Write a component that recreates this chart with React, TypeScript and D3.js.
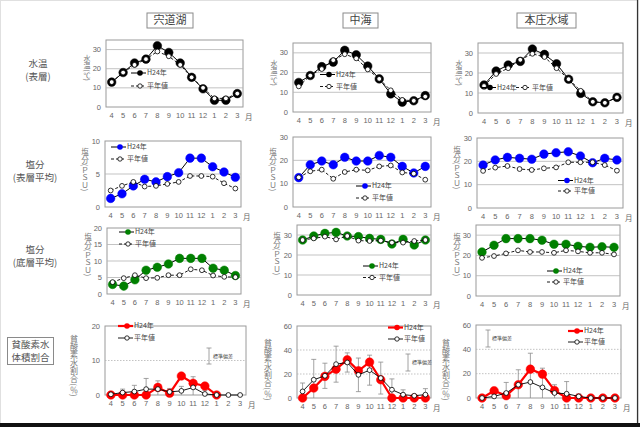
import React from "react";
import * as d3 from "d3";

const months = ["4", "5", "6", "7", "8", "9", "10", "11", "12", "1", "2", "3"];
const areaNames = ["宍道湖", "中海", "本庄水域"];
const legendH24 = "H24年";
const legendAvg = "平年値";
const legendSd = "標準偏差";

// 水温（表層）
const shinjiTempH24 = [13, 18, 23, 25, 32, 28.5, 23, 15.5, 9.5, 3.5, 3.5, 7];
const shinjiTempAvg = [13, 18, 22, 25, 29, 26.5, 22, 15.5, 10, 4.5, 4.5, 7];
const nakaumiTempH24 = [15, 18.5, 23, 25.3, 31.3, 29, 23.3, 16.8, 9.2, 5, 5.7, 8.3];
const nakaumiTempAvg = [13, 18.5, 21.8, 26.3, 29.3, 27.2, 21.6, 16.8, 11, 6.1, 5.7, 7.8];
const honjoTempH24 = [14, 21, 24, 25.8, 32, 29.3, 24.6, 16.9, 9.8, 5.6, 5.1, 7.8];
const honjoTempAvg = [13.5, 19.5, 22.4, 26.6, 29.6, 28, 22.4, 16.9, 11.1, 5.6, 5.1, 7.8];

// 塩分（表層平均）
const shinjiSurfH24 = [1.3, 2.0, 3.2, 4.2, 3.8, 4.6, 5.2, 7.4, 7.4, 6.1, 5.3, 4.5];
const shinjiSurfAvg = [2.5, 3.2, 3.8, 3.1, 3.2, 3.5, 3.8, 4.7, 4.7, 4.6, 3.6, 2.8];
const nakaumiSurfH24 = [12.6, 18.1, 19.7, 18.1, 21.3, 19.7, 19.7, 22.1, 21.3, 17.4, 14.6, 17.4];
const nakaumiSurfAvg = [12.7, 15.3, 16, 12.1, 15, 16, 15.7, 17.4, 17.8, 14.8, 14.3, 11.7];
const honjoSurfH24 = [18.4, 20.6, 21.7, 21.3, 20.9, 23.1, 23.7, 24.1, 22.3, 19.4, 21.3, 20.6];
const honjoSurfAvg = [15.9, 17.3, 18, 16.7, 16.3, 17, 17.4, 19.6, 19.6, 19.6, 18.4, 16];

// 塩分（底層平均）
const shinjiBotH24 = [2.9, 2.4, 4.3, 7.2, 8.1, 9.1, 10.8, 10.8, 10.8, 7.8, 7.2, 5.6];
const shinjiBotAvg = [3.6, 4.8, 5.7, 4.8, 4.9, 5.7, 5.7, 7.5, 7.2, 5.6, 5.2, 5.1];
const nakaumiBotH24 = [27.5, 29.5, 30.8, 31.3, 29.5, 29.2, 28.3, 27.8, 25.5, 27.8, 25, 27.5];
const nakaumiBotAvg = [27.5, 28.3, 29.2, 27.8, 29.5, 27.2, 27, 27.2, 26.2, 26.2, 27, 27.5];
const honjoBotH24 = [21.7, 25, 28.3, 28.3, 28.3, 27.5, 25.5, 25.5, 24.5, 24, 24.3, 24];
const honjoBotAvg = [18.8, 19.7, 21, 22.5, 21.7, 21.7, 21.3, 22.5, 22, 21.3, 21.3, 20.5];

// 貧酸素水体積割合
const shinjiOxyH24 = [0, 0, 0, 0, 2.2, 0.5, 5.5, 3.4, 2.6, 0, null, null];
const shinjiOxyAvg = [0.2, 0.7, 1.0, 1.7, 1.7, 0.9, 1.2, 2.2, 0.3, 0, 0, 0];
const shinjiOxySd = [0, 1, 1.8, 3.1, 2.4, 1, 1.3, 3.1, 1, 0, 0, 0];
const nakaumiOxyH24 = [0, 8.3, 18, 24, 31.8, 22.7, 29.9, 15.2, 0, 0, 0, 0];
const nakaumiOxyAvg = [5.5, 15.2, 18.5, 28.2, 29.6, 19.3, 23.2, 16.6, 6.9, 2.8, 1.9, 2.8];
const nakaumiOxySd = [7, 17, 10.5, 15, 8, 14, 12.5, 13.3, 9, 4, 1, 5];
const honjoOxyH24 = [0, 6, 1.9, 10.9, 23.7, 19.6, 6.2, 0, 0, 0, 0, 0];
const honjoOxyAvg = [0, 1.3, 4.1, 10.9, 13.1, 8.7, 4.1, 3.5, 1.3, 0, 0, 0];
const honjoOxySd = [0, 1.5, 8.7, 12.3, 23.7, 15.8, 6.8, 10, 2, 0, 0, 0];

const tempTicks = [0, 10, 20, 30];
const shinjiSurfTicks = [0, 5, 10];
const shinjiBotTicks = [0, 5, 10, 15, 20];
const salTicks = [0, 10, 20, 30];
const shinjiOxyTicks = [0, 10, 20];
const oxyTicks = [0, 20, 40, 60];

const ylabTemp = "水温(℃)";
const ylabSal = "塩分(ＰＳＵ)";
const ylabOxy = "貧酸素水割合(％)";

const FONT = "'Noto Sans CJK JP', 'Liberation Sans', sans-serif";
const NUMFONT = "'Liberation Sans', 'Noto Sans CJK JP', sans-serif";

type Kind = "temp" | "surf" | "bot" | "oxy";
interface Leg { x: number; y1: number; y2: number; horiz?: boolean; x2?: number }
interface Cfg {
  x0: number; x1: number; y0: number; y1: number; max: number; ticks: number[];
  kind: Kind; h24: (number | null)[]; avg: number[]; sd?: number[];
  ylabel: string; yl: [number, number]; ylSize: number; leg: Leg;
  sdLeg?: { x: number; ya: number; yb: number };
}

const panels: Cfg[] = [
  { x0: 106, x1: 243, y0: 40, y1: 107, max: 35, ticks: tempTicks, kind: "temp", h24: shinjiTempH24, avg: shinjiTempAvg, ylabel: ylabTemp, yl: [87, 68], ylSize: 7, leg: { x: 131, y1: 73, y2: 86 } },
  { x0: 105, x1: 241, y0: 141, y1: 207, max: 10, ticks: shinjiSurfTicks, kind: "surf", h24: shinjiSurfH24, avg: shinjiSurfAvg, ylabel: ylabSal, yl: [85, 170], ylSize: 7.5, leg: { x: 111, y1: 147, y2: 159 } },
  { x0: 107, x1: 241, y0: 228, y1: 294, max: 20, ticks: shinjiBotTicks, kind: "bot", h24: shinjiBotH24, avg: shinjiBotAvg, ylabel: ylabSal, yl: [88, 255], ylSize: 7.5, leg: { x: 119, y1: 232, y2: 244 } },
  { x0: 105, x1: 246, y0: 326, y1: 395, max: 20, ticks: shinjiOxyTicks, kind: "oxy", h24: shinjiOxyH24, avg: shinjiOxyAvg, sd: shinjiOxySd, ylabel: ylabOxy, yl: [74, 366], ylSize: 8, leg: { x: 118, y1: 326, y2: 338 }, sdLeg: { x: 209, ya: 348, yb: 364 } },

  { x0: 293, x1: 431, y0: 43, y1: 112, max: 35, ticks: tempTicks, kind: "temp", h24: nakaumiTempH24, avg: nakaumiTempAvg, ylabel: ylabTemp, yl: [274, 73], ylSize: 7, leg: { x: 320, y1: 74.5, y2: 86.5 } },
  { x0: 293, x1: 431, y0: 137, y1: 207, max: 30, ticks: salTicks, kind: "surf", h24: nakaumiSurfH24, avg: nakaumiSurfAvg, ylabel: ylabSal, yl: [273, 170], ylSize: 7.5, leg: { x: 356, y1: 186, y2: 198 } },
  { x0: 297, x1: 431, y0: 225, y1: 295, max: 35, ticks: salTicks, kind: "bot", h24: nakaumiBotH24, avg: nakaumiBotAvg, ylabel: ylabSal, yl: [277, 254], ylSize: 7.5, leg: { x: 363, y1: 266, y2: 277.5 } },
  { x0: 297, x1: 431, y0: 326, y1: 398, max: 60, ticks: oxyTicks, kind: "oxy", h24: nakaumiOxyH24, avg: nakaumiOxyAvg, sd: nakaumiOxySd, ylabel: ylabOxy, yl: [268, 370], ylSize: 8, leg: { x: 388, y1: 327.5, y2: 339 }, sdLeg: { x: 408, ya: 354, yb: 371 } },

  { x0: 478, x1: 623, y0: 43, y1: 113, max: 35, ticks: tempTicks, kind: "temp", h24: honjoTempH24, avg: honjoTempAvg, ylabel: ylabTemp, yl: [459, 73], ylSize: 7, leg: { x: 481, x2: 516, y1: 87.5, y2: 87.5, horiz: true } },
  { x0: 477, x1: 623, y0: 138, y1: 208, max: 30, ticks: salTicks, kind: "surf", h24: honjoSurfH24, avg: honjoSurfAvg, ylabel: ylabSal, yl: [457, 168], ylSize: 7.5, leg: { x: 558, y1: 180.5, y2: 191 } },
  { x0: 476, x1: 620, y0: 225, y1: 296, max: 35, ticks: salTicks, kind: "bot", h24: honjoBotH24, avg: honjoBotAvg, ylabel: ylabSal, yl: [457, 255], ylSize: 7.5, leg: { x: 547, y1: 271, y2: 282 } },
  { x0: 476, x1: 621, y0: 325, y1: 398, max: 60, ticks: oxyTicks, kind: "oxy", h24: honjoOxyH24, avg: honjoOxyAvg, sd: honjoOxySd, ylabel: ylabOxy, yl: [446, 370], ylSize: 8, leg: { x: 568, y1: 331, y2: 342 }, sdLeg: { x: 488, ya: 330, yb: 347 } },
];

const colors: Record<Kind, string> = { temp: "#000000", surf: "#0000ff", bot: "#008000", oxy: "#ff0000" };

function Panel({ c }: { c: Cfg }) {
  const x = d3.scaleBand<string>().domain(months).range([c.x0, c.x1]);
  const cx = (i: number) => (x(months[i]) as number) + x.bandwidth() / 2;
  const y = d3.scaleLinear().domain([0, c.max]).range([c.y1, c.y0]);
  const col = colors[c.kind];
  const isOxy = c.kind === "oxy";
  const lineGen = d3
    .line<number | null>()
    .defined((d) => d != null)
    .x((_, i) => cx(i))
    .y((d) => y(d as number));
  const rBig = 4.3;
  const rSmall = 2.4;
  const avgDash = isOxy ? undefined : "3,2";
  const h24Width = isOxy ? 2.2 : 1;
  const L = c.leg;
  const legItems = L.horiz
    ? [
        { lx: L.x, ly: L.y1, t: legendH24, h: true },
        { lx: L.x2 as number, ly: L.y2, t: legendAvg, h: false },
      ]
    : [
        { lx: L.x, ly: L.y1, t: legendH24, h: true },
        { lx: L.x, ly: L.y2, t: legendAvg, h: false },
      ];
  return (
    <g>
      <rect x={c.x0} y={c.y0} width={c.x1 - c.x0} height={c.y1 - c.y0} fill="#fff" stroke="#9a9a9a" strokeWidth={1} />
      {c.ticks.filter((t) => t > 0 && t < c.max).map((t) => (
        <line key={"g" + t} x1={c.x0} x2={c.x1} y1={y(t)} y2={y(t)} stroke="#b4b4b4" strokeWidth={0.8} strokeDasharray={isOxy ? "1.5,1.5" : undefined} />
      ))}
      {c.ticks.map((t) => (
        <text key={"t" + t} x={c.x0 - 5} y={y(t)} dy="0.35em" textAnchor="end" fontSize={7.5} fill="#666" fontFamily={NUMFONT}>{t}</text>
      ))}
      {months.map((m, i) => (
        <text key={"m" + m} x={cx(i)} y={c.y1 + 11} textAnchor="middle" fontSize={7.5} fill="#666" fontFamily={NUMFONT}>{m}</text>
      ))}
      <text x={c.x1 + 2} y={c.y1 + 13} fontSize={7.5} fill="#666" fontFamily={FONT}>月</text>
      <text x={c.yl[0]} y={c.yl[1]} textAnchor="middle" fontSize={c.ylSize} fill="#777" fontFamily={FONT} style={{ writingMode: "vertical-rl" } as any}>{c.ylabel}</text>
      {c.sd &&
        c.avg.map((v, i) => {
          const s = (c.sd as number[])[i];
          if (!s) return null;
          const top = Math.min(v + s, c.max);
          const bot = Math.max(v - s, 0);
          return (
            <g key={"e" + i} stroke="#8c8c8c" strokeWidth={0.8}>
              <line x1={cx(i)} x2={cx(i)} y1={y(bot)} y2={y(top)} />
              {v + s <= c.max && <line x1={cx(i) - 2.5} x2={cx(i) + 2.5} y1={y(top)} y2={y(top)} />}
              {v - s >= 0 && <line x1={cx(i) - 2.5} x2={cx(i) + 2.5} y1={y(bot)} y2={y(bot)} />}
            </g>
          );
        })}
      <path d={lineGen(c.h24) || ""} fill="none" stroke={isOxy ? col : "#000"} strokeWidth={h24Width} />
      {c.h24.map((v, i) => (v == null ? null : <circle key={"h" + i} cx={cx(i)} cy={y(v)} r={rBig} fill={col} stroke={col} strokeWidth={0.5} />))}
      <path d={lineGen(c.avg) || ""} fill="none" stroke="#000" strokeWidth={0.9} strokeDasharray={avgDash} />
      {c.avg.map((v, i) => (
        <circle key={"a" + i} cx={cx(i)} cy={y(v)} r={rSmall} fill="#fff" stroke="#000" strokeWidth={0.8} />
      ))}
      {legItems.map((it, k) => (
        <g key={"l" + k}>
          <line x1={it.lx} x2={it.lx + 15} y1={it.ly} y2={it.ly} stroke={it.h ? (isOxy ? col : "#000") : "#000"} strokeWidth={it.h ? h24Width : 0.9} strokeDasharray={it.h ? undefined : avgDash} />
          {it.h ? (
            <circle cx={it.lx + 9} cy={it.ly} r={2.8} fill={col} />
          ) : (
            <circle cx={it.lx + 9} cy={it.ly} r={2.2} fill="#fff" stroke="#000" strokeWidth={0.8} />
          )}
          <text x={it.lx + 16} y={it.ly} dy="0.35em" fontSize={7} fill="#444" fontFamily={FONT}>{it.t}</text>
        </g>
      ))}
      {c.sdLeg && (
        <g>
          <g stroke="#8c8c8c" strokeWidth={0.8}>
            <line x1={c.sdLeg.x} x2={c.sdLeg.x} y1={c.sdLeg.ya} y2={c.sdLeg.yb} />
            <line x1={c.sdLeg.x - 2.5} x2={c.sdLeg.x + 2.5} y1={c.sdLeg.ya} y2={c.sdLeg.ya} />
            <line x1={c.sdLeg.x - 2.5} x2={c.sdLeg.x + 2.5} y1={c.sdLeg.yb} y2={c.sdLeg.yb} />
          </g>
          <text x={c.sdLeg.x + 4} y={(c.sdLeg.ya + c.sdLeg.yb) / 2} dy="0.35em" fontSize={5} fill="#444" fontFamily={FONT}>{legendSd}</text>
        </g>
      )}
    </g>
  );
}

const titleBoxes = [
  { x: 147, y: 13, w: 46, h: 15 },
  { x: 343, y: 13, w: 35, h: 15 },
  { x: 517, y: 13, w: 59, h: 15 },
];

const rowLabels = [
  { lines: ["水温", "(表層)"], x: 38, y: 64 },
  { lines: ["塩分", "(表層平均)"], x: 35, y: 165 },
  { lines: ["塩分", "(底層平均)"], x: 35, y: 250 },
];

export default function App() {
  return (
    <svg width={640} height={427} style={{ position: "absolute", left: 0, top: 0, background: "#fff" }}>
      <rect x={0} y={0} width={640} height={427} fill="#fff" />
      <rect x={0.5} y={0.5} width={638} height={425} fill="none" stroke="#e0e0e0" />
      {titleBoxes.map((b, i) => (
        <g key={"tb" + i}>
          <rect x={b.x} y={b.y} width={b.w} height={b.h} fill="#fff" stroke="#8a8a8a" strokeWidth={1} />
          <text x={b.x + b.w / 2} y={b.y + b.h / 2} dy="0.36em" textAnchor="middle" fontSize={11} fill="#444" fontFamily={FONT}>{areaNames[i]}</text>
        </g>
      ))}
      {rowLabels.map((r, i) => (
        <g key={"rl" + i}>
          {r.lines.map((t, k) => (
            <text key={k} x={r.x} y={r.y + k * 13} dy="0.36em" textAnchor="middle" fontSize={9.5} fill="#555" fontFamily={FONT}>{t}</text>
          ))}
        </g>
      ))}
      <rect x={7.5} y={337.5} width={46} height={27} fill="#fff" stroke="#8a8a8a" strokeWidth={1} />
      <text x={30.5} y={344.5} dy="0.36em" textAnchor="middle" fontSize={9.5} fill="#555" fontFamily={FONT}>貧酸素水</text>
      <text x={30.5} y={357.5} dy="0.36em" textAnchor="middle" fontSize={9.5} fill="#555" fontFamily={FONT}>体積割合</text>
      {panels.map((c, i) => (
        <Panel key={i} c={c} />
      ))}
      <line x1={637.5} x2={637.5} y1={0} y2={427} stroke="#333" strokeWidth={1.2} />
      <rect x={0} y={423} width={640} height={4} fill="#111" />
    </svg>
  );
}
